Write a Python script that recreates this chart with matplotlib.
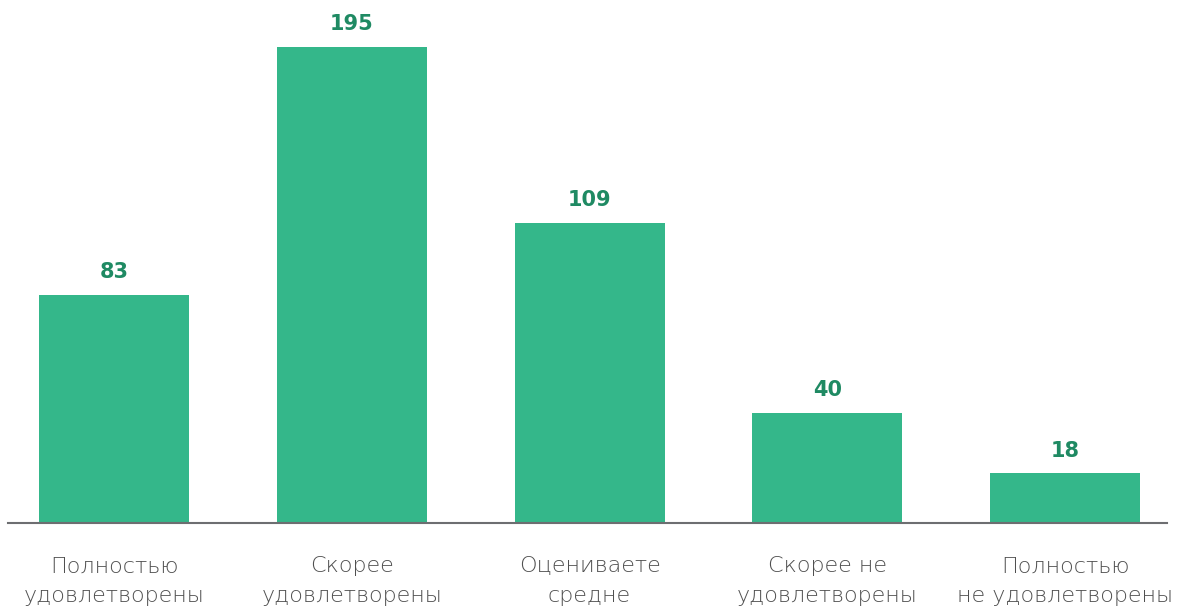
import matplotlib
matplotlib.use("Agg")
import matplotlib.pyplot as plt
import numpy as np

# Survey answers and counts
categories = [
    "Полностью\nудовлетворены",
    "Скорее\nудовлетворены",
    "Оцениваете\nсредне",
    "Скорее не\nудовлетворены",
    "Полностью\nне удовлетворены",
]
counts = [83, 195, 109, 40, 18]

BAR_COLOR = "#34b78a"
VALUE_COLOR = "#1f8a63"
LABEL_COLOR = "#505050"
AXIS_COLOR = "#6d6e71"

plt.rcParams["font.family"] = ["DejaVu Sans"]

W, H = 1177, 607
fig = plt.figure(figsize=(W / 100, H / 100), dpi=100)
ax = fig.add_axes([8 / W, 1 - 523 / H, 1159 / W, (523 - 47) / H])

x = np.arange(len(categories))
ax.bar(x, counts, width=0.631, color=BAR_COLOR, zorder=1)

# the tallest bar runs past the top of the plotting area
ymax = 173
ax.set_ylim(0, ymax)
ax.set_xlim(-0.446, len(categories) - 1 + 0.429)

for xi, v in zip(x, counts):
    ax.annotate(str(v), (xi, min(v, ymax)), xytext=(0, 16.5), textcoords="offset points",
                ha="center", va="center", fontsize=15, fontweight="bold",
                color=VALUE_COLOR, annotation_clip=False)

ax.set_xticks(x, categories)
ax.tick_params(axis="x", length=0, pad=24, labelsize=16, labelcolor=LABEL_COLOR)
for t in ax.get_xticklabels():
    t.set_linespacing(1.6)
    t.set_fontweight("light")
ax.set_yticks([])

for s in ("top", "left", "right"):
    ax.spines[s].set_visible(False)
ax.spines["bottom"].set_color(AXIS_COLOR)
ax.spines["bottom"].set_linewidth(1.5)

fig.savefig("out.png", dpi=100, facecolor="white")
